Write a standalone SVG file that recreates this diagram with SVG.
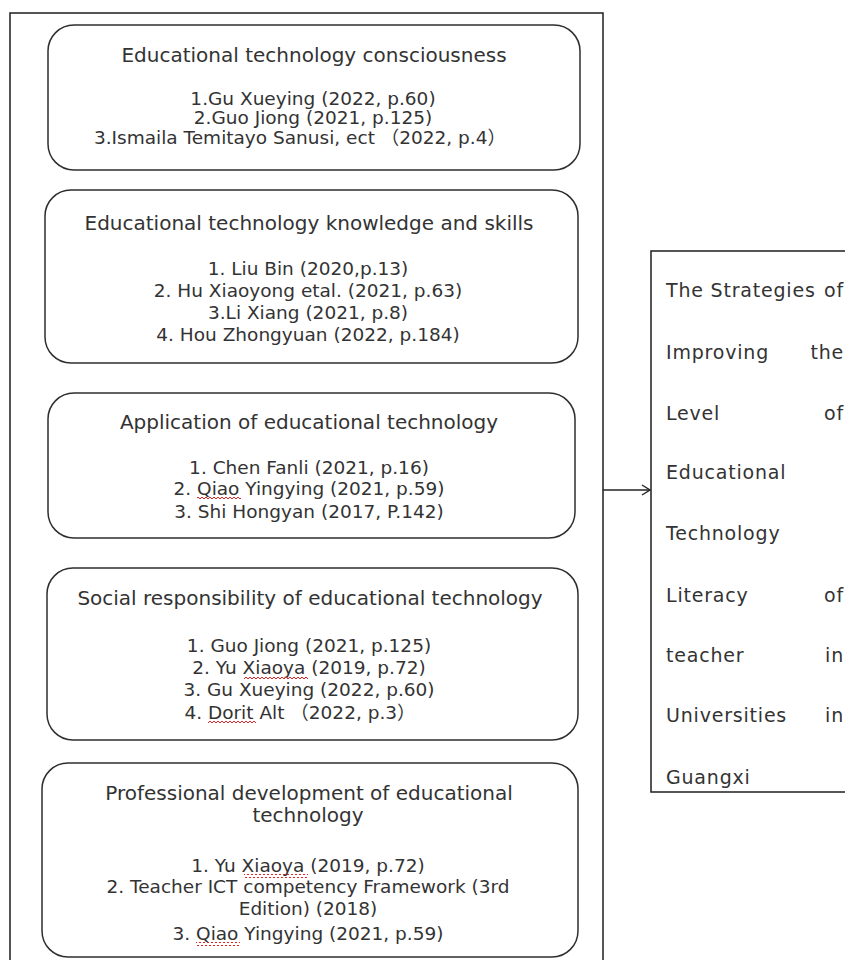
<svg xmlns="http://www.w3.org/2000/svg" width="845" height="960" viewBox="0 0 845 960">
<style>
.frame{fill:none;stroke:#1e1e1e;stroke-width:1.5}
.box{fill:#fff;stroke:#2e2e2e;stroke-width:1.5}
.t{font-family:"DejaVu Sans",sans-serif;font-size:20px;fill:#333;text-anchor:middle}
.i{font-size:18.5px}
.r{font-family:"DejaVu Sans",sans-serif;font-size:19px;letter-spacing:0.8px;fill:#333}
.e{text-anchor:end}
.cjk{font-family:"DejaVu Sans","Noto Sans CJK SC",sans-serif}
.conn{fill:none;stroke:#222;stroke-width:1.5}
.sq{fill:url(#squiggle)}
</style>
<defs>
<marker id="arr" markerWidth="12" markerHeight="12" refX="10" refY="6" orient="auto" markerUnits="userSpaceOnUse">
<polyline points="2,1 10,6 2,11" fill="none" stroke="#222" stroke-width="1.4"/>
</marker>
<pattern id="squiggle" width="4" height="4" patternUnits="userSpaceOnUse">
<path d="M0,3 L2,1 L4,3" fill="none" stroke="#e02424" stroke-width="1"/>
</pattern>
</defs>
<rect class="frame" x="10" y="13" width="593" height="960"/>
<g id="node1">
<rect class="box" x="48" y="25" width="532" height="145" rx="26"/>
<text class="t" x="314" y="62">Educational technology consciousness</text>
<text class="t i" x="313" y="105">1.Gu Xueying (2022, p.60)</text>
<text class="t i" x="313" y="124">2.Guo Jiong (2021, p.125)</text>
<text class="t i cjk" x="300" y="144">3.Ismaila Temitayo Sanusi, ect （2022, p.4）</text>
</g>
<g id="node2">
<rect class="box" x="45" y="190" width="533" height="173" rx="26"/>
<text class="t" x="309" y="230">Educational technology knowledge and skills</text>
<text class="t i" x="308" y="275">1. Liu Bin (2020,p.13)</text>
<text class="t i" x="308" y="297">2. Hu Xiaoyong etal. (2021, p.63)</text>
<text class="t i" x="308" y="319">3.Li Xiang (2021, p.8)</text>
<text class="t i" x="308" y="341">4. Hou Zhongyuan (2022, p.184)</text>
</g>
<g id="node3">
<rect class="box" x="48" y="393" width="527" height="145" rx="26"/>
<text class="t" x="309" y="429">Application of educational technology</text>
<text class="t i" x="309" y="474">1. Chen Fanli (2021, p.16)</text>
<text class="t i" x="309" y="495">2. Qiao Yingying (2021, p.59)</text>
<text class="t i" x="309" y="518">3. Shi Hongyan (2017, P.142)</text>
<rect class="sq" x="197" y="497" width="44" height="4"/>
</g>
<g id="node4">
<rect class="box" x="47" y="568" width="531" height="172" rx="26"/>
<text class="t" x="310" y="605">Social responsibility of educational technology</text>
<text class="t i" x="309" y="652">1. Guo Jiong (2021, p.125)</text>
<text class="t i" x="309" y="674">2. Yu Xiaoya (2019, p.72)</text>
<text class="t i" x="309" y="696">3. Gu Xueying (2022, p.60)</text>
<text class="t i cjk" x="300" y="719">4. Dorit Alt （2022, p.3）</text>
<rect class="sq" x="244" y="676" width="64" height="4"/>
<rect class="sq" x="208" y="721" width="48" height="4"/>
</g>
<g id="node5">
<rect class="box" x="42" y="763" width="536" height="194" rx="26"/>
<text class="t" x="309" y="800">Professional development of educational</text>
<text class="t" x="308" y="822">technology</text>
<text class="t i" x="308" y="872">1. Yu Xiaoya (2019, p.72)</text>
<text class="t i" x="308" y="893">2. Teacher ICT competency Framework (3rd</text>
<text class="t i" x="308" y="915">Edition) (2018)</text>
<text class="t i" x="308" y="940">3. Qiao Yingying (2021, p.59)</text>
<rect class="sq" x="244" y="874" width="64" height="4"/>
<rect class="sq" x="196" y="942" width="44" height="4"/>
</g>
<g id="node6">
<rect class="frame" x="651" y="251" width="210" height="541"/>
<text class="r" x="666" y="297">The Strategies</text><text class="r e" x="844" y="297">of</text>
<text class="r" x="666" y="359">Improving</text><text class="r e" x="844" y="359">the</text>
<text class="r" x="666" y="420">Level</text><text class="r e" x="844" y="420">of</text>
<text class="r" x="666" y="479">Educational</text>
<text class="r" x="666" y="540">Technology</text>
<text class="r" x="666" y="602">Literacy</text><text class="r e" x="844" y="602">of</text>
<text class="r" x="666" y="662">teacher</text><text class="r e" x="844" y="662">in</text>
<text class="r" x="666" y="722">Universities</text><text class="r e" x="844" y="722">in</text>
<text class="r" x="666" y="784">Guangxi</text>
</g>
<g id="connectors">
<line class="conn" x1="603" y1="490" x2="650" y2="490" marker-end="url(#arr)"/>
</g>
</svg>
